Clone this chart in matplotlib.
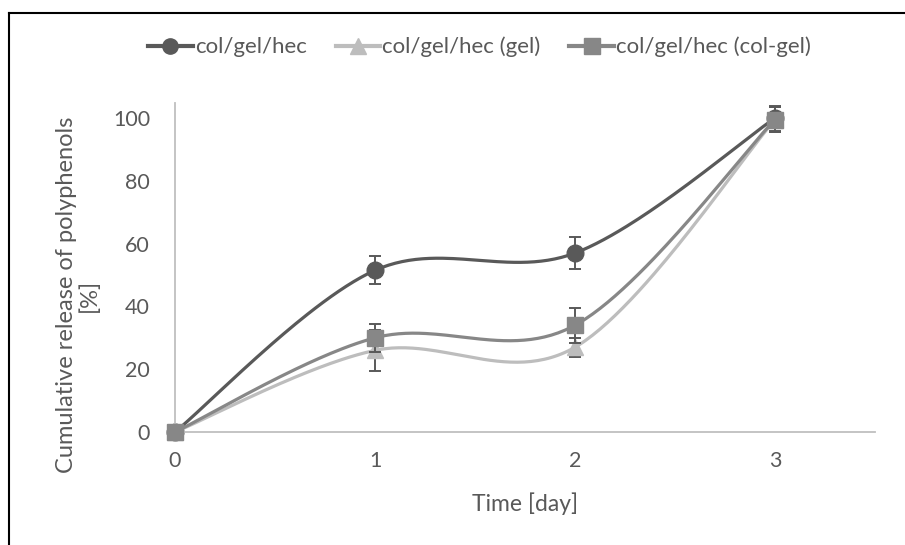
import numpy as np
import matplotlib
matplotlib.use("Agg")
import matplotlib.pyplot as plt
from matplotlib.lines import Line2D

plt.rcParams['font.family'] = ['Lato', 'DejaVu Sans']

# data
days = [0, 1, 2, 3]
hec = [0, 51.5, 57, 100]
hec_err = [0, 4.5, 5, 4]
gel = [0, 26, 27, 99.5]
gel_err = [0, 6.5, 3, 4]
colgel = [0, 30, 34, 99.5]
colgel_err = [0, 4.4, 5.5, 4]

names = ["col/gel/hec", "col/gel/hec (gel)", "col/gel/hec (col-gel)"]
colors = ["#595959", "#BDBDBD", "#878787"]
markers = ["o", "^", "s"]
err_color = "#595959"


def smooth(x, y, n=60):
    # excel-like smoothed line (cardinal bezier through the points)
    x = np.asarray(x, float)
    y = np.asarray(y, float)
    px = np.concatenate([[x[0]], x, [x[-1]]])
    py = np.concatenate([[y[0]], y, [y[-1]]])
    xs, ys = [], []
    t = np.linspace(0, 1, n)
    for i in range(1, len(px) - 2):
        p0 = np.array([px[i], py[i]])
        p3 = np.array([px[i + 1], py[i + 1]])
        p1 = p0 + (np.array([px[i + 1], py[i + 1]]) - np.array([px[i - 1], py[i - 1]])) / 6
        p2 = p3 - (np.array([px[i + 2], py[i + 2]]) - np.array([px[i], py[i]])) / 6
        b = ((1 - t) ** 3)[:, None] * p0 + (3 * (1 - t) ** 2 * t)[:, None] * p1 \
            + (3 * (1 - t) * t ** 2)[:, None] * p2 + (t ** 3)[:, None] * p3
        xs.extend(b[:, 0])
        ys.extend(b[:, 1])
    return xs, ys


fig = plt.figure(figsize=(9.05, 5.45), dpi=100)
ax = fig.add_axes([175 / 905, 113 / 545, 700 / 905, 329 / 545])

series = [hec, gel, colgel]
errs = [hec_err, gel_err, colgel_err]
for k in range(3):
    sx, sy = smooth(days, series[k])
    ax.plot(sx, sy, color=colors[k], lw=2.3, zorder=2 + k, solid_capstyle="round", clip_on=False)
    ax.errorbar(days, series[k], yerr=errs[k], fmt="none", ecolor=err_color,
                elinewidth=1.4, capsize=4.5, capthick=1.4, zorder=2 + k)
    ax.plot(days, series[k], linestyle="none", marker=markers[k], ms=12,
            color=colors[k], zorder=2.5 + k, clip_on=False)

ax.set_xlim(0, 3.5)
ax.set_ylim(0, 104.8)
ax.set_xticks([0, 1, 2, 3])
ax.set_yticks([0, 20, 40, 60, 80, 100])
for s in ["top", "right"]:
    ax.spines[s].set_visible(False)
for s in ["left", "bottom"]:
    ax.spines[s].set_color("#BFBFBF")
    ax.spines[s].set_linewidth(1.3)
ax.tick_params(length=0, labelsize=15.5, labelcolor="#595959", pad=18)
ax.tick_params(axis="x", pad=14)
ax.set_xlabel("Time [day]", fontsize=16.5, color="#595959", labelpad=15)
fig.text(78 / 905, 1 - 295 / 545, "Cumulative release of polyphenols\n[%]", rotation=90,
         ha="center", va="center", fontsize=17, color="#595959", linespacing=1.1)

handles = [Line2D([], [], color=colors[k], lw=3, marker=markers[k], ms=11) for k in range(3)]
fig.legend(handles, names, loc="center", bbox_to_anchor=(0.53, 1 - 47 / 545), ncol=3,
           frameon=False, fontsize=16, labelcolor="#595959", handlelength=2.0,
           handletextpad=0.1, columnspacing=1.3)

# frame pieces visible on the top and left
fig.add_artist(Line2D([9 / 905, 1], [1 - 13 / 545, 1 - 13 / 545], color="black", lw=1.5))
fig.add_artist(Line2D([9 / 905, 9 / 905], [0, 1 - 13 / 545], color="black", lw=1.5))

fig.savefig("out.png", dpi=100)
